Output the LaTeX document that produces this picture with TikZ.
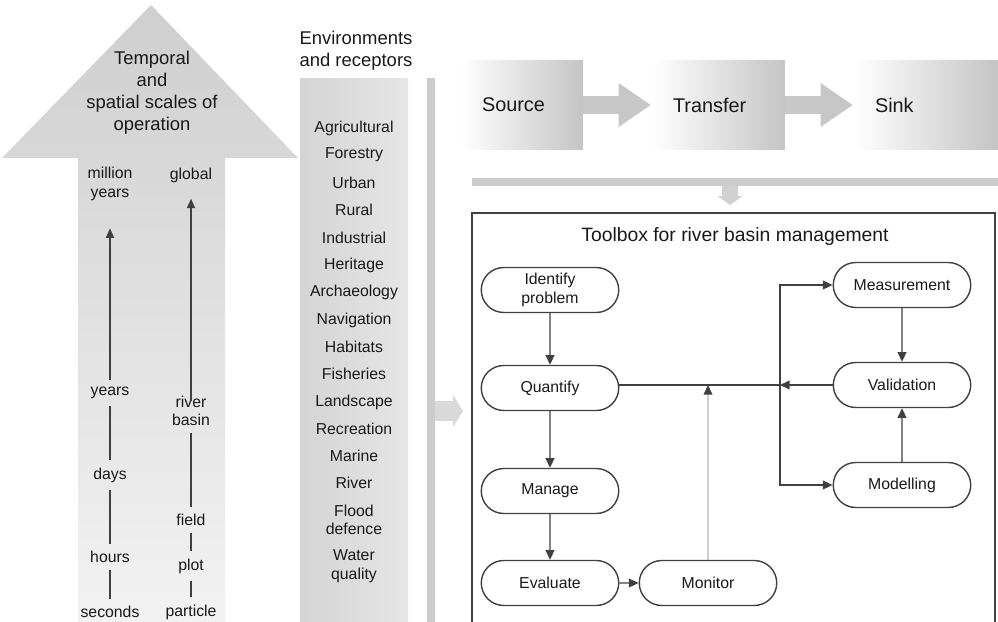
\documentclass[tikz,border=0pt]{standalone}
\usepackage{fontspec}
\setmainfont{Liberation Sans}
\usetikzlibrary{arrows.meta,positioning,shapes.misc}
\tikzset{
  lab/.style={font=\fontsize{9}{10.5}\selectfont, align=center, inner sep=2pt, text=black!90},
  head/.style={font=\fontsize{10.5}{12.5}\selectfont, align=center, text=black!90},
  scl/.style={draw=black!75, line width=1.1pt, shorten <=2pt, shorten >=2pt},
  sclarr/.style={scl, -{Triangle[length=5.5pt, width=4.5pt]}},
  proc/.style={rounded rectangle, draw=black!75, line width=0.8pt, minimum width=2.82cm, minimum height=0.9cm, font=\fontsize{9}{10.5}\selectfont, align=center, inner sep=1pt, text=black!90},
  arr/.style={draw=black!75, line width=0.8pt, -{Triangle[length=5.5pt, width=5pt]}},
  fat/.style={draw=black!22, line width=0.36cm, -{Triangle[length=0.64cm, width=0.88cm, line width=0pt]}},
  flowbox/.style={left color=white, right color=black!23, font=\fontsize{11.3}{13}\selectfont, align=left, minimum height=1.8cm, inner xsep=0.44cm, inner ysep=0pt, text=black!90}
}
\begin{document}
\begin{tikzpicture}[x=0.02cm, y=-0.02cm]
  \useasboundingbox (0,0) rectangle (998,622);
  % scales arrow
  \shade[top color=black!19, bottom color=black!5] (78,622) -- (78,158) -- (2,158) -- (151,5) -- (298,158) -- (225,158) -- (225,622) -- cycle;
  \node[head] (scales) at (152,93) {Temporal\\and\\spatial scales of\\operation};
  \node[lab] (myears) at (110,184) {million\\years};
  \node[lab] (years) at (110,393) {years};
  \node[lab] (days) at (110,475) {days};
  \node[lab] (hours) at (110,557) {hours};
  \node[lab] (seconds) at (110,612) {seconds};
  \node[lab] (global) at (191,175) {global};
  \node[lab] (rbasin) at (191,411) {river\\basin};
  \node[lab] (field) at (191,520) {field};
  \node[lab] (plot) at (191,566) {plot};
  \node[lab] (particle) at (191,612) {particle};
  \draw[sclarr, shorten >=13.5pt] (years) -- (myears);
  \draw[scl] (days) -- (years);
  \draw[scl] (hours) -- (days);
  \draw[scl] (seconds) -- (hours);
  \draw[sclarr, shorten <=-5pt, shorten >=7pt] (rbasin) -- (global);
  \draw[scl] (field) -- (rbasin);
  \draw[scl] (plot) -- (field);
  \draw[scl] (particle) -- (plot);
  % environments and receptors
  \node[head] (envhead) at (356,51) {Environments\\and receptors};
  \shade[left color=black!17, middle color=white, right color=black!10] (300,78) rectangle (408,622);
  \foreach \y/\t [count=\i] in {128/Agricultural, 155/Forestry, 183/Urban, 210/Rural, 238/Industrial, 265/Heritage, 292/Archaeology, 320/Navigation, 347/Habitats, 374/Fisheries, 402/Landscape, 429/Recreation, 456/Marine, 483/River, 520/{Flood\\defence}, 566/{Water\\quality}}
    \node[lab] (env\i) at (354,\y) {\t};
  \fill[black!20] (427,78) rectangle (435,622);
  \coordinate (barR) at (435,411);
  \coordinate (tbL) at (463,411);
  \draw[fat, draw=black!15, line width=0.4cm, -{Triangle[length=0.2cm, width=0.64cm, line width=0pt]}] (barR) -- (tbL);
  % source - transfer - sink
  \node[flowbox, text width=1.58cm] (src) at (521.5,105) {Source};
  \node[flowbox, text width=1.80cm] (trf) at (718,105) {Transfer};
  \node[flowbox, text width=2.02cm] (snk) at (925.5,105) {Sink};
  \draw[fat] (src) -- (trf);
  \draw[fat] (trf) -- (snk);
  \fill[black!20] (472,178) rectangle (998,186);
  \coordinate (hbar) at (730,186);
  \coordinate (tbtop) at (730,205);
  \draw[fat, draw=black!18, line width=0.32cm, -{Triangle[length=0.18cm, width=0.5cm, line width=0pt]}] (hbar) -- (tbtop);
  % toolbox
  \draw[black!75, line width=1pt] (472,622) -- (472,213) -- (995,213) -- (995,622);
  \node[font=\fontsize{11}{13}\selectfont, text=black!90] (tbtitle) at (735,237) {Toolbox for river basin management};
  \node[proc] (idp) at (550,290) {Identify\\problem};
  \node[proc] (qnt) at (550,388) {Quantify};
  \node[proc] (mng) at (550,491) {Manage};
  \node[proc] (evl) at (550,583) {Evaluate};
  \node[proc] (mon) at (708,583) {Monitor};
  \node[proc] (msr) at (902,285) {Measurement};
  \node[proc] (val) at (902,385) {Validation};
  \node[proc] (mdl) at (902,485) {Modelling};
  \coordinate (jn) at (780,385);
  \draw[arr] (idp) -- (qnt);
  \draw[arr] (qnt) -- (mng);
  \draw[arr] (mng) -- (evl);
  \draw[arr] (evl) -- (mon);
  \draw[arr] (msr) -- (val);
  \draw[arr] (mdl) -- (val);
  \draw[arr] (val) -- (jn);
  \draw[black!75, line width=0.8pt] (jn) -- (qnt.east |- jn);
  \draw[arr] (jn) |- (msr);
  \draw[arr] (jn) |- (mdl);
  \draw[black!30, line width=0.7pt, -{Triangle[length=5.5pt, width=5pt, color=black!75]}] (mon) -- (mon |- jn);
\end{tikzpicture}
\end{document}
